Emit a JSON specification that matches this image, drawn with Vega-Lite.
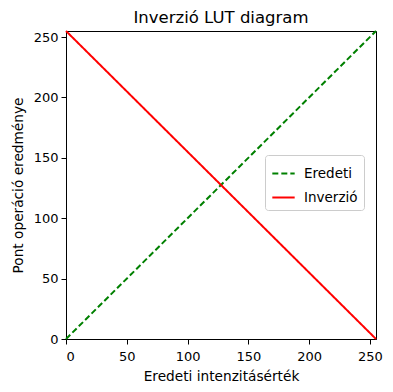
{
  "$schema": "https://vega.github.io/schema/vega-lite/v6.json",
  "width": 310,
  "height": 308,
  "autosize": {"type": "none"},
  "padding": {"left": 66, "top": 31, "right": 17, "bottom": 53},
  "background": "white",
  "title": {"text": "Inverzió LUT diagram", "font": "DejaVu Sans", "fontSize": 16.5, "fontWeight": "normal", "color": "black", "offset": 1},
  "config": {
    "view": {"stroke": "black", "strokeWidth": 1},
    "axis": {"labelFont": "DejaVu Sans", "titleFont": "DejaVu Sans", "labelFontSize": 13, "titleFontSize": 13.7, "titleFontWeight": "normal", "labelColor": "black", "titleColor": "black", "tickColor": "black", "domainColor": "black", "grid": false, "tickSize": 5}
  },
  "data": {"values": [
    {"x": 0, "y": 0, "series": "Eredeti"},
    {"x": 255, "y": 255, "series": "Eredeti"},
    {"x": 0, "y": 255, "series": "Inverzió"},
    {"x": 255, "y": 0, "series": "Inverzió"}
  ]},
  "mark": {"type": "line", "strokeWidth": 2, "clip": false},
  "encoding": {
    "x": {"field": "x", "type": "quantitative", "scale": {"domain": [0, 255], "nice": false, "zero": false}, "axis": {"values": [0, 50, 100, 150, 200, 250], "title": "Eredeti intenzitásérték", "labelPadding": 6, "titlePadding": 6}},
    "y": {"field": "y", "type": "quantitative", "scale": {"domain": [0, 255], "nice": false, "zero": false}, "axis": {"values": [0, 50, 100, 150, 200, 250], "title": "Pont operáció eredménye", "labelPadding": 3, "titlePadding": 8}},
    "color": {"field": "series", "type": "nominal", "scale": {"domain": ["Eredeti", "Inverzió"], "range": ["#008000", "#ff0000"]}, "legend": {"title": null, "orient": "none", "legendX": 199, "legendY": 124, "labelFont": "DejaVu Sans", "labelFontSize": 13.5, "labelColor": "black", "symbolType": "stroke", "symbolSize": 500, "symbolStrokeWidth": 2, "fillColor": "white", "strokeColor": "#cccccc", "cornerRadius": 3, "padding": 6, "rowPadding": 5, "labelOffset": 8}},
    "strokeDash": {"field": "series", "type": "nominal", "scale": {"domain": ["Eredeti", "Inverzió"], "range": [[6, 3], [1, 0]]}}
  }
}
